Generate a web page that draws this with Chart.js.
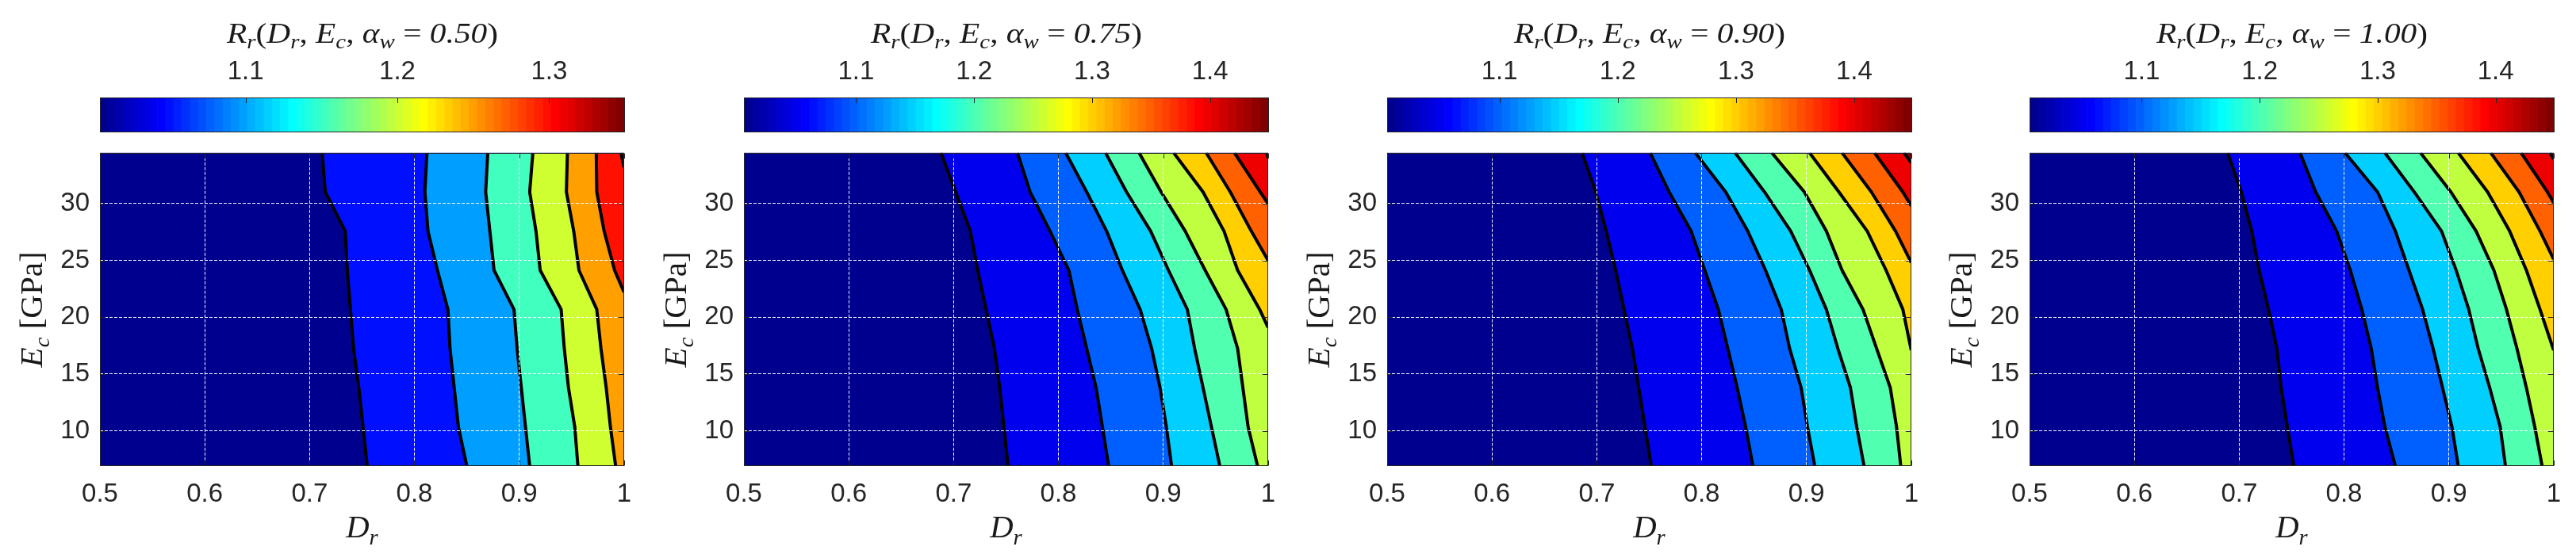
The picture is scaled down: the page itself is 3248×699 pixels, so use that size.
<!DOCTYPE html>
<html><head><meta charset="utf-8">
<script src="https://cdn.jsdelivr.net/npm/chart.js@4.4.1/dist/chart.umd.min.js"></script>
<style>
html,body{margin:0;padding:0;background:#fff;width:3248px;height:699px;overflow:hidden;position:relative}
canvas{position:absolute}
</style></head><body>
<script>
// ------------------------------------------------------------------ data
// E_c sampling levels (GPa) where contour vertices were read
const EC_GRID = [6.895, 10.342, 13.790, 17.237, 20.684, 24.132, 27.579, 31.026, 34.474];
const X_MIN = 0.5, X_MAX = 1.0, Y_MIN = 6.895, Y_MAX = 34.474;
const ALPHA_W = ['0.50', '0.75', '0.90', '1.00'];
const CB_MIN = [1.004, 1.005, 1.005, 1.005];
const CB_MAX = [1.350, 1.450, 1.449, 1.450];
const LEVELS = [1.05, 1.10, 1.15, 1.20, 1.25, 1.30, 1.35, 1.40, 1.45];

// contour lines spanning the full E_c range: D_r at each EC_GRID value (levels 1.05..1.25)
const DR_A050 = [
  [0.755, 0.751, 0.747, 0.742, 0.739, 0.736, 0.734, 0.715, 0.712],
  [0.850, 0.842, 0.838, 0.834, 0.832, 0.822, 0.813, 0.810, 0.812],
  [0.910, 0.906, 0.902, 0.898, 0.895, 0.876, 0.872, 0.868, 0.870],
  [0.956, 0.953, 0.947, 0.943, 0.940, 0.920, 0.916, 0.910, 0.913],
  [0.992, 0.987, 0.983, 0.978, 0.974, 0.957, 0.952, 0.945, 0.946]
];
const DR_A075 = [
  [0.752, 0.748, 0.744, 0.739, 0.731, 0.723, 0.716, 0.702, 0.688],
  [0.848, 0.842, 0.836, 0.827, 0.818, 0.810, 0.792, 0.773, 0.761],
  [0.908, 0.903, 0.897, 0.889, 0.878, 0.861, 0.846, 0.827, 0.807],
  [0.954, 0.946, 0.938, 0.930, 0.923, 0.905, 0.888, 0.865, 0.845],
  [0.990, 0.981, 0.976, 0.971, 0.960, 0.940, 0.921, 0.898, 0.877]
];
const DR_A090 = [
  [0.752, 0.746, 0.740, 0.734, 0.726, 0.718, 0.709, 0.699, 0.686],
  [0.849, 0.842, 0.834, 0.825, 0.816, 0.803, 0.790, 0.769, 0.751],
  [0.908, 0.901, 0.895, 0.884, 0.876, 0.861, 0.844, 0.823, 0.794],
  [0.955, 0.948, 0.942, 0.930, 0.919, 0.903, 0.885, 0.860, 0.832],
  [0.990, 0.986, 0.980, 0.967, 0.954, 0.934, 0.919, 0.898, 0.867]
];
const DR_A100 = [
  [0.752, 0.746, 0.740, 0.736, 0.728, 0.719, 0.712, 0.702, 0.689],
  [0.849, 0.839, 0.832, 0.826, 0.817, 0.806, 0.793, 0.773, 0.758],
  [0.909, 0.903, 0.894, 0.885, 0.875, 0.862, 0.849, 0.832, 0.801],
  [0.954, 0.949, 0.939, 0.928, 0.919, 0.907, 0.893, 0.867, 0.839],
  [0.989, 0.982, 0.974, 0.965, 0.955, 0.943, 0.926, 0.902, 0.873]
];
// contour lines that leave through the right edge: [D_r, E_c] pairs (levels 1.30, 1.35, ...)
const EDGE_A050 = [
  [[1.0, 22.2], [0.991, 24.132], [0.981, 27.579], [0.974, 31.026], [0.9735, 34.474]],
  [[1.0, 33.2], [0.997, 34.474]]
];
const EDGE_A075 = [
  [[1.0, 19.1], [0.992, 20.684], [0.971, 24.132], [0.958, 27.579], [0.938, 31.026], [0.910, 34.474]],
  [[1.0, 25.0], [0.984, 27.579], [0.964, 31.026], [0.941, 34.474]],
  [[1.0, 30.0], [0.9925, 31.026], [0.968, 34.474]],
  [[1.0, 34.0], [0.9988, 34.474]]
];
const EDGE_A090 = [
  [[1.0, 17.1], [0.992, 20.684], [0.976, 24.132], [0.958, 27.579], [0.931, 31.026], [0.903, 34.474]],
  [[1.0, 24.8], [0.985, 27.579], [0.962, 31.026], [0.934, 34.474]],
  [[1.0, 29.8], [0.992, 31.026], [0.965, 34.474]],
  [[1.0, 33.6], [0.993, 34.474]]
];
const EDGE_A100 = [
  [[1.0, 17.1], [0.987, 20.684], [0.974, 24.132], [0.958, 27.579], [0.937, 31.026], [0.909, 34.474]],
  [[1.0, 25.1], [0.987, 27.579], [0.967, 31.026], [0.940, 34.474]],
  [[1.0, 30.1], [0.994, 31.026], [0.969, 34.474]],
  [[1.0, 33.9], [0.9965, 34.474]]
];
const FULL_LINES = [DR_A050, DR_A075, DR_A090, DR_A100];
const EDGE_LINES = [EDGE_A050, EDGE_A075, EDGE_A090, EDGE_A100];

// ------------------------------------------------------------------ layout / style
const PLOT_LEFT = [126, 938, 1749, 2559];
const PLOT_W = 662, AXIS_W = 126, PAD_R = 24, CANVAS_W = AXIS_W + PLOT_W + PAD_R;
const INK = '#262626';
const SANS = '"Liberation Sans", Arial, Helvetica, sans-serif';
const SERIF = '"Liberation Serif", "Times New Roman", serif';
Chart.defaults.font.family = SANS;

// MATLAB jet(64)
const JET = (function (m) {
  const n = Math.ceil(m / 4), u = [];
  for (let k = 1; k <= n; k++) u.push(k / n);
  for (let k = 1; k < n; k++) u.push(1);
  for (let k = n; k >= 1; k--) u.push(k / n);
  const off = Math.ceil(n / 2) - (m % 4 === 1 ? 1 : 0);
  const J = Array.from({length: m}, () => [0, 0, 0]);
  u.forEach((val, k) => {
    const g = off + k + 1, r = g + n, b = g - n;
    if (r >= 1 && r <= m) J[r - 1][0] = val;
    if (g >= 1 && g <= m) J[g - 1][1] = val;
    if (b >= 1 && b <= m) J[b - 1][2] = val;
  });
  return J;
})(64);
const rgb = c => `rgb(${Math.round(c[0] * 255)},${Math.round(c[1] * 255)},${Math.round(c[2] * 255)})`;
function jetColor(v, cmin, cmax) {
  let i = Math.floor((v - cmin) / (cmax - cmin) * 64);
  i = Math.max(0, Math.min(63, i));
  return rgb(JET[i]);
}
const fmtTick = v => String(Math.round(v * 100) / 100);

// simple LaTeX-like text: "_x" = subscript, [..] and punctuation upright, rest italic
function mathRuns(str) {
  const runs = []; let upright = false;
  for (let i = 0; i < str.length; i++) {
    let ch = str[i], sub = false;
    if (ch === '[') upright = true;
    if (ch === '_') { sub = true; ch = str[++i]; }
    const punct = '()[],= '.includes(ch);
    runs.push({text: ch, italic: !(upright || punct), sub});
    if (ch === ']') upright = false;
  }
  return runs;
}
function drawMath(ctx, str, cx, baseline, size, targetW, rotate) {
  const runs = mathRuns(str);
  let w = 0;
  runs.forEach(r => {
    r.s = r.sub ? size * 0.7 : size;
    r.font = `${r.italic ? 'italic ' : ''}${r.s}px ${SERIF}`;
    ctx.font = r.font; r.w = ctx.measureText(r.text).width; w += r.w;
  });
  const sx = targetW ? targetW / w : 1;
  ctx.save();
  ctx.translate(cx, baseline);
  if (rotate) ctx.rotate(-Math.PI / 2);
  ctx.scale(sx, 1);
  ctx.fillStyle = '#1a1a1a'; ctx.textAlign = 'left'; ctx.textBaseline = 'alphabetic';
  let x = -w / 2;
  runs.forEach(r => { ctx.font = r.font; ctx.fillText(r.text, x, r.sub ? size * 0.22 : 0); x += r.w; });
  ctx.restore();
}

function makeCanvas(left, top, w, h) {
  const c = document.createElement('canvas');
  c.width = w; c.height = h;
  c.style.left = left + 'px'; c.style.top = top + 'px';
  c.style.width = w + 'px'; c.style.height = h + 'px';
  document.body.appendChild(c);
  return c;
}

const tickFont = {family: SANS, size: 33};

PLOT_LEFT.forEach((L, p) => {
  const cmin = CB_MIN[p], cmax = CB_MAX[p];

  // ---------------- colorbar
  const stripes = JET.map((c, i) => ({x: cmin + (i + 0.5) * (cmax - cmin) / 64, y: 1}));
  new Chart(makeCanvas(L - AXIS_W, 0, CANVAS_W, 180), {
    type: 'bar',
    data: {datasets: [{data: stripes, backgroundColor: JET.map(rgb), borderWidth: 0,
      barPercentage: 1, categoryPercentage: 1}]},
    options: {
      responsive: false, animation: false, events: [],
      layout: {padding: {left: AXIS_W, right: PAD_R, top: 0, bottom: 13}},
      plugins: {legend: {display: false}, tooltip: {enabled: false}},
      scales: {
        x: {type: 'linear', position: 'top', min: cmin, max: cmax, offset: false,
          grid: {display: false, drawTicks: false}, border: {display: false},
          ticks: {stepSize: 0.1, includeBounds: false, padding: 12, font: tickFont, color: INK, maxRotation: 0,
            callback: fmtTick},
          afterFit: s => { s.height = 123; }},
        y: {type: 'linear', display: false, min: 0, max: 1}
      }
    },
    plugins: [{
      id: 'cbdeco',
      afterDraw(chart) {
        const {ctx, chartArea: a} = chart; const xs = chart.scales.x;
        ctx.save(); ctx.strokeStyle = INK; ctx.lineWidth = 1;
        xs.ticks.forEach(t => {
          const px = Math.round(xs.getPixelForValue(t.value)) + 0.5;
          ctx.beginPath(); ctx.moveTo(px, a.top); ctx.lineTo(px, a.top + 7); ctx.stroke();
        });
        ctx.strokeRect(Math.round(a.left) + 0.5, Math.round(a.top) + 0.5,
          Math.round(a.right - a.left) - 1, Math.round(a.bottom - a.top) - 1);
        ctx.restore();
        drawMath(ctx, 'R_r(D_r, E_c, α_w = ' + ALPHA_W[p] + ')', (a.left + a.right) / 2, 53.5, 36, 342, false);
      }
    }]
  });

  // ---------------- filled contour plot
  const lines = [];
  FULL_LINES[p].forEach((arr, k) => lines.push({level: LEVELS[k], pts: arr.map((x, j) => ({x, y: EC_GRID[j]}))}));
  EDGE_LINES[p].forEach((arr, k) => lines.push({level: LEVELS[FULL_LINES[p].length + k], pts: arr.map(([x, y]) => ({x, y}))}));
  const datasets = lines.map(l => ({
    data: l.pts, borderColor: '#000', borderWidth: 4,
    backgroundColor: jetColor(l.level, cmin, cmax),
    fill: {value: X_MAX}, pointRadius: 0, tension: 0, clip: 0,
    borderJoinStyle: 'round', borderCapStyle: 'butt'
  })).reverse(); // leftmost contour painted first
  const baseColor = jetColor(cmin, cmin, cmax);
  const GRID_WHITE = 'rgba(255,255,255,0.95)';
  const gridColor = ctx => (ctx.tick && (Math.abs(ctx.tick.value - X_MIN) < 1e-9 || Math.abs(ctx.tick.value - X_MAX) < 1e-9)) ? 'rgba(0,0,0,0)' : GRID_WHITE;

  new Chart(makeCanvas(L - AXIS_W, 160, CANVAS_W, 539), {
    type: 'line',
    data: {datasets},
    options: {
      indexAxis: 'y',
      responsive: false, animation: false, events: [],
      layout: {padding: {left: 0, right: PAD_R, top: 30, bottom: 0}},
      plugins: {legend: {display: false}, tooltip: {enabled: false}},
      scales: {
        x: {type: 'linear', position: 'bottom', min: X_MIN, max: X_MAX,
          ticks: {stepSize: 0.1, padding: 16, font: tickFont, color: INK, maxRotation: 0, callback: fmtTick},
          grid: {color: gridColor, lineWidth: 1, drawTicks: false, z: 1},
          border: {display: false, dash: [4, 2]},
          afterFit: s => { s.height = 111; }},
        y: {type: 'linear', position: 'left', min: Y_MIN, max: Y_MAX,
          ticks: {stepSize: 5, includeBounds: false, padding: 13, font: tickFont, color: INK, callback: fmtTick},
          grid: {color: GRID_WHITE, lineWidth: 1, drawTicks: false, z: 1},
          border: {display: false, dash: [4, 2]},
          afterFit: s => { s.width = AXIS_W; }}
      }
    },
    plugins: [{
      id: 'plotbg',
      beforeDatasetsDraw(chart) {
        const {ctx, chartArea: a} = chart;
        ctx.save(); ctx.fillStyle = baseColor;
        ctx.fillRect(a.left, a.top, a.right - a.left, a.bottom - a.top);
        ctx.restore();
      }
    }, {
      id: 'frame',
      afterDraw(chart) {
        const {ctx, chartArea: a} = chart; const xs = chart.scales.x, ys = chart.scales.y;
        const l = Math.round(a.left) + 0.5, r = Math.round(a.right) - 0.5;
        const t = Math.round(a.top) + 0.5, b = Math.round(a.bottom) - 0.5;
        ctx.save(); ctx.strokeStyle = INK; ctx.lineWidth = 1;
        const tl = 6.6;
        xs.ticks.forEach(tk => {
          const px = Math.round(xs.getPixelForValue(tk.value)) + 0.5;
          ctx.beginPath(); ctx.moveTo(px, b); ctx.lineTo(px, b - tl); ctx.moveTo(px, t); ctx.lineTo(px, t + tl); ctx.stroke();
        });
        ys.ticks.forEach(tk => {
          const py = Math.round(ys.getPixelForValue(tk.value)) + 0.5;
          ctx.beginPath(); ctx.moveTo(l, py); ctx.lineTo(l + tl, py); ctx.moveTo(r, py); ctx.lineTo(r - tl, py); ctx.stroke();
        });
        ctx.strokeRect(l, t, r - l, b - t);
        ctx.restore();
        drawMath(ctx, 'D_r', (a.left + a.right) / 2, a.bottom + 90, 39, 40.5, false);
        drawMath(ctx, 'E_c [GPa]', a.left - 73, (a.top + a.bottom) / 2, 39, 146, true);
      }
    }]
  });
});
</script>
</body></html>
